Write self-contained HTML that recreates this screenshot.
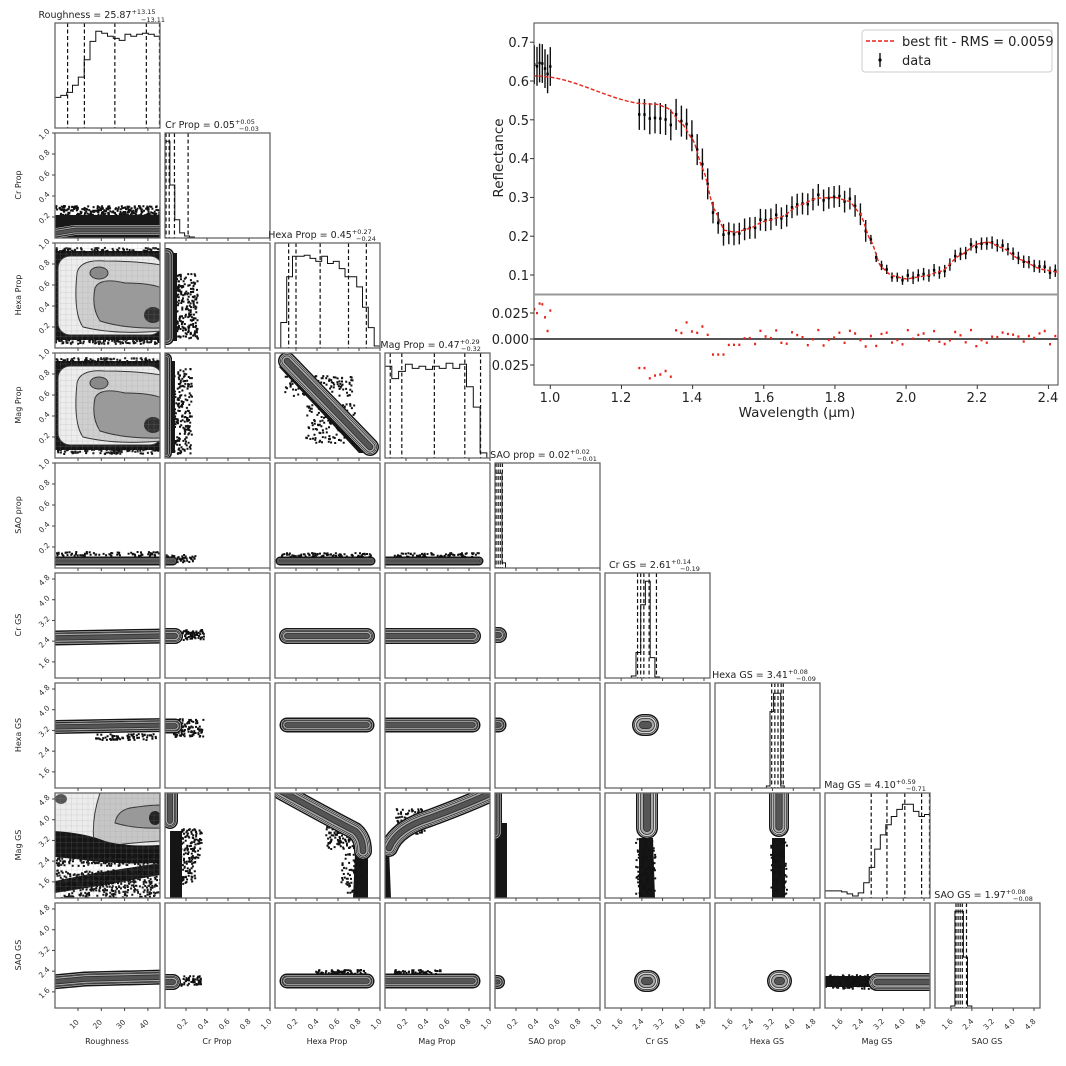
<!DOCTYPE html>
<html><head><meta charset="utf-8"><style>
html,body{margin:0;padding:0;background:#fff;}
svg{display:block;font-family:"DejaVu Sans","Liberation Sans",sans-serif;}
</style></head><body>
<svg id="s" width="1066" height="1066" viewBox="0 0 1066 1066" xmlns="http://www.w3.org/2000/svg">
<rect width="1066" height="1066" fill="#fff"/>
<g id="corner"></g>
<g id="spec"></g>
<g font-size="9.5" fill="#222" text-anchor="middle">
<text x="97" y="18">Roughness = 25.87<tspan font-size="6.5" dy="-4">+13.15</tspan></text>
<text x="210" y="128">Cr Prop = 0.05<tspan font-size="6.5" dy="-4">+0.05</tspan></text>
<text x="320" y="238">Hexa Prop = 0.45<tspan font-size="6.5" dy="-4">+0.27</tspan></text>
<text x="430" y="348">Mag Prop = 0.47<tspan font-size="6.5" dy="-4">+0.29</tspan></text>
<text x="540" y="458">SAO prop = 0.02<tspan font-size="6.5" dy="-4">+0.02</tspan></text>
<text x="650" y="568">Cr GS = 2.61<tspan font-size="6.5" dy="-4">+0.14</tspan></text>
<text x="760" y="678">Hexa GS = 3.41<tspan font-size="6.5" dy="-4">+0.08</tspan></text>
<text x="870" y="788">Mag GS = 4.10<tspan font-size="6.5" dy="-4">+0.59</tspan></text>
<text x="980" y="898">SAO GS = 1.97<tspan font-size="6.5" dy="-4">+0.08</tspan></text>
</g>
<g font-size="6.5" fill="#222">
<text x="141" y="22">−13.11</text><text x="239" y="131">−0.03</text><text x="356" y="241">−0.24</text><text x="461" y="351">−0.32</text><text x="577" y="461">−0.01</text><text x="680" y="571">−0.19</text><text x="796" y="681">−0.09</text><text x="906" y="791">−0.71</text><text x="1013" y="901">−0.08</text>
</g>
<g font-size="8" fill="#222" text-anchor="middle">
<text transform="translate(21,185) rotate(-90)">Cr Prop</text>
<text transform="translate(21,295) rotate(-90)">Hexa Prop</text>
<text transform="translate(21,405) rotate(-90)">Mag Prop</text>
<text transform="translate(21,515) rotate(-90)">SAO prop</text>
<text transform="translate(21,625) rotate(-90)">Cr GS</text>
<text transform="translate(21,735) rotate(-90)">Hexa GS</text>
<text transform="translate(21,845) rotate(-90)">Mag GS</text>
<text transform="translate(21,955) rotate(-90)">SAO GS</text>
<text x="107" y="1044">Roughness</text>
<text x="217" y="1044">Cr Prop</text>
<text x="327" y="1044">Hexa Prop</text>
<text x="437" y="1044">Mag Prop</text>
<text x="547" y="1044">SAO prop</text>
<text x="657" y="1044">Cr GS</text>
<text x="767" y="1044">Hexa GS</text>
<text x="877" y="1044">Mag GS</text>
<text x="987" y="1044">SAO GS</text>
</g>
<g id="ticklabels" font-size="7.5" fill="#333"></g>
<g font-size="13" fill="#222">
<text x="529" y="47" text-anchor="end">0.7</text>
<text x="529" y="86" text-anchor="end">0.6</text>
<text x="529" y="125" text-anchor="end">0.5</text>
<text x="529" y="163" text-anchor="end">0.4</text>
<text x="529" y="202" text-anchor="end">0.3</text>
<text x="529" y="241" text-anchor="end">0.2</text>
<text x="529" y="280" text-anchor="end">0.1</text>
<text x="529" y="318" text-anchor="end">0.025</text>
<text x="529" y="344" text-anchor="end">0.000</text>
<text x="529" y="370" text-anchor="end">0.025</text>
<text x="550" y="402" text-anchor="middle">1.0</text>
<text x="621" y="402" text-anchor="middle">1.2</text>
<text x="692" y="402" text-anchor="middle">1.4</text>
<text x="764" y="402" text-anchor="middle">1.6</text>
<text x="835" y="402" text-anchor="middle">1.8</text>
<text x="906" y="402" text-anchor="middle">2.0</text>
<text x="977" y="402" text-anchor="middle">2.2</text>
<text x="1048" y="402" text-anchor="middle">2.4</text>
<text x="797" y="417" text-anchor="middle" font-size="13.5">Wavelength (µm)</text>
<text transform="translate(503,158) rotate(-90)" text-anchor="middle" font-size="13.5">Reflectance</text>
<text x="902" y="46">best fit - RMS = 0.0059</text>
<text x="902" y="65">data</text>
</g>
</svg>
<script>
var NS="http://www.w3.org/2000/svg";
function el(parent,tag,attrs){var e=document.createElementNS(NS,tag);for(var k in attrs)e.setAttribute(k,attrs[k]);parent.appendChild(e);return e;}
var seed=7;function rnd(){seed=(seed*16807)%2147483647;return (seed-1)/2147483646;}
var C=document.getElementById('corner');
var P=105;
function px(c){return 55+110*c;} function py(r){return 23+110*r;}
var vars=[
 {t:[10,20,30,40],lab:['10','20','30','40'],x:function(v){return 23+(v-10)*2.33;}},
 {t:[.2,.4,.6,.8,1],lab:['0.2','0.4','0.6','0.8','1.0'],x:function(v){return v*105;}},
 {t:[.2,.4,.6,.8,1],lab:['0.2','0.4','0.6','0.8','1.0'],x:function(v){return v*105;}},
 {t:[.2,.4,.6,.8,1],lab:['0.2','0.4','0.6','0.8','1.0'],x:function(v){return v*105;}},
 {t:[.2,.4,.6,.8,1],lab:['0.2','0.4','0.6','0.8','1.0'],x:function(v){return v*105;}},
 {t:[1.6,2.4,3.2,4.0,4.8],lab:['1.6','2.4','3.2','4.0','4.8'],x:function(v){return 99-(4.8-v)*25.9;}},
 {t:[1.6,2.4,3.2,4.0,4.8],lab:['1.6','2.4','3.2','4.0','4.8'],x:function(v){return 99-(4.8-v)*25.9;}},
 {t:[1.6,2.4,3.2,4.0,4.8],lab:['1.6','2.4','3.2','4.0','4.8'],x:function(v){return 99-(4.8-v)*25.9;}},
 {t:[1.6,2.4,3.2,4.0,4.8],lab:['1.6','2.4','3.2','4.0','4.8'],x:function(v){return 99-(4.8-v)*25.9;}}
];
function tube(g,d,W){
 var L=[[W,'#161616'],[W-3,'#f2f2f2'],[W-4,'#2a2a2a'],[W-5.5,'#d6d6d6'],[W*0.62,'#2a2a2a'],[W*0.62-1.5,'#a8a8a8'],[W*0.36,'#2a2a2a'],[W*0.36-1.5,'#555']];
 L.forEach(function(l){if(l[0]>0.5)el(g,'path',{d:d,fill:'none',stroke:l[1],'stroke-width':l[0],'stroke-linecap':'round','stroke-linejoin':'round'});});
}
function scat(g,x0,y0,w,h,n){var d='';for(var i=0;i<n*2.5;i++){var x=x0+rnd()*w,y=y0+rnd()*h;d+='M'+x.toFixed(1)+' '+y.toFixed(1)+'h2v2h-2z';}el(g,'path',{d:d,fill:'#111'});}
function grid(g){var d='';for(var i=0;i<=105;i+=5.5){d+='M'+i+' 0V105M0 '+i+'H105';}el(g,'path',{d:d,stroke:'#999','stroke-width':0.3,fill:'none',opacity:0.5});}
function bigbox(g){
 el(g,'rect',{x:0,y:8,width:105,height:89,fill:'#181818'});
 scat(g,0,4,105,7,60);scat(g,0,94,105,6,50);
 el(g,'rect',{x:3,y:13,width:104,height:79,rx:12,fill:'#ededed',stroke:'#333','stroke-width':1});
 el(g,'path',{d:'M22 30 Q25 16 50 18 Q80 18 107 22 L107 88 Q60 92 28 84 Q18 70 22 30Z',fill:'#cfcfcf',stroke:'#333','stroke-width':1});
 el(g,'path',{d:'M40 45 Q45 34 70 40 Q95 40 107 45 L107 85 Q70 86 45 78 Q36 64 40 45Z',fill:'#9a9a9a',stroke:'#333','stroke-width':1});
 el(g,'ellipse',{cx:98,cy:72,rx:9,ry:8,fill:'#303030'});
 el(g,'ellipse',{cx:44,cy:30,rx:9,ry:6,fill:'#888',stroke:'#333','stroke-width':1});
 grid(g);
}
var cells={
 '1,0':function(g){scat(g,0,72,105,14,140);el(g,'rect',{x:0,y:82,width:105,height:23,fill:'#181818'});tube(g,'M-4 101 L20 97 L110 97',13);},
 '2,0':bigbox,'3,0':bigbox,
 '2,1':function(g){scat(g,8,30,24,65,90);el(g,'rect',{x:0,y:10,width:12,height:88,fill:'#181818'});tube(g,'M2 12 L2 95',14);},
 '3,1':function(g){scat(g,6,15,20,85,80);el(g,'rect',{x:0,y:8,width:10,height:92,fill:'#181818'});tube(g,'M1 6 L1 100',12);},
 '3,2':function(g){el(g,'path',{d:'M4 14 L84 100 L100 100 L98 86 L20 6Z',fill:'#181818'});scat(g,8,22,70,20,40);scat(g,30,50,50,40,60);tube(g,'M12 8 L95 94',18);},
 '4,0':function(g){scat(g,0,88,105,4,30);tube(g,'M-3 98 L110 98',9);},
 '4,1':function(g){scat(g,0,91,30,8,20);tube(g,'M-3 98 L8 98',9);},
 '4,2':function(g){tube(g,'M5 98 L96 98',9);scat(g,5,89,90,4,30);},
 '4,3':function(g){tube(g,'M-3 98 L94 98',9);scat(g,5,89,90,4,30);},
 '5,0':function(g){tube(g,'M-3 65 L110 63',15);},
 '5,1':function(g){scat(g,8,56,30,10,40);tube(g,'M-3 63 L10 63',16);},
 '5,2':function(g){tube(g,'M12 63 L92 63',16);},
 '5,3':function(g){tube(g,'M-3 63 L88 63',16);},
 '5,4':function(g){tube(g,'M-3 62 L4 62',16);},
 '6,0':function(g){scat(g,40,50,60,6,30);tube(g,'M-3 44 L110 42',14);},
 '6,1':function(g){scat(g,8,35,30,18,40);tube(g,'M-3 43 L10 43',15);},
 '6,2':function(g){tube(g,'M12 42 L92 42',15);},
 '6,3':function(g){tube(g,'M-3 42 L88 42',15);},
 '6,4':function(g){tube(g,'M-3 42 L4 42',15);},
 '6,5':function(g){tube(g,'M38 42 L43 42',22);},
 '7,0':function(g){
   el(g,'rect',{x:0,y:0,width:105,height:60,fill:'#ececec'});
   el(g,'path',{d:'M40 55 Q35 30 45 0 L105 0 L105 48 Q70 50 40 55Z',fill:'#c6c6c6',stroke:'#333'});
   el(g,'path',{d:'M60 30 Q62 18 75 15 Q95 12 105 12 L105 35 Q80 36 60 30Z',fill:'#999',stroke:'#333'});
   el(g,'ellipse',{cx:100,cy:25,rx:6,ry:7,fill:'#222'});el(g,'ellipse',{cx:6,cy:6,rx:6,ry:5,fill:'#555'});
   el(g,'path',{d:'M0 38 Q30 40 50 48 Q70 54 105 52 L105 70 Q60 72 20 66 L0 64Z',fill:'#161616'});
   scat(g,0,60,105,12,80);
   el(g,'path',{d:'M0 88 L40 80 L105 70 L105 82 L50 92 L0 100Z',fill:'#1a1a1a'});
   scat(g,0,76,105,29,150);grid(g);},
 '7,1':function(g){el(g,'rect',{x:5,y:38,width:12,height:67,fill:'#151515'});scat(g,14,35,22,30,40);scat(g,16,65,14,25,20);tube(g,'M5 -6 L5 28',16);},
 '7,2':function(g){el(g,'path',{d:'M82 48 L93 60 L93 105 L78 105 L80 60Z',fill:'#151515'});scat(g,50,30,40,25,60);scat(g,65,60,20,40,25);tube(g,'M6 -2 Q55 25 80 38 Q88 45 88 58',18);},
 '7,3':function(g){el(g,'path',{d:'M0 55 L4 55 L6 105 L0 105Z',fill:'#151515'});scat(g,10,15,30,25,40);tube(g,'M4 55 Q12 35 45 25 Q80 12 102 2',18);},
 '7,4':function(g){el(g,'rect',{x:0,y:30,width:12,height:75,fill:'#151515'});tube(g,'M0 -5 L0 40',14);},
 '7,5':function(g){el(g,'path',{d:'M34 45 L48 45 L50 105 L34 105Z',fill:'#151515'});scat(g,30,45,20,60,40);tube(g,'M42 -6 L42 35',22);},
 '7,6':function(g){el(g,'path',{d:'M57 45 L70 45 L70 105 L57 105Z',fill:'#151515'});scat(g,55,45,16,60,30);tube(g,'M64 -6 L64 34',20);},
 '8,0':function(g){scat(g,70,68,35,5,40);tube(g,'M-3 79 L30 76 L110 74',15);},
 '8,1':function(g){scat(g,6,72,30,10,30);tube(g,'M-3 79 L8 79',16);},
 '8,2':function(g){scat(g,40,66,50,5,30);tube(g,'M12 78 L92 78',15);},
 '8,3':function(g){scat(g,5,66,50,5,30);tube(g,'M-3 78 L88 78',15);},
 '8,4':function(g){tube(g,'M-3 79 L3 79',14);},
 '8,5':function(g){tube(g,'M40 78 L44 78',22);},
 '8,6':function(g){tube(g,'M63 78 L66 78',22);},
 '8,7':function(g){el(g,'rect',{x:0,y:73,width:48,height:11,fill:'#151515'});scat(g,0,71,48,14,40);tube(g,'M52 79 L112 79',18);}
};
var hists=[
 {h:[.3,.32,.35,.42,.5,.67,.85,.95,.93,.9,.88,.86,.92,.9,.92,.93,.92,.9],x0:0,x1:1,dash:[.12,.28,.57,.87,.995]},
 {h:[.95,.52,.18,.05,.02,.01],x0:0,x1:.28,dash:[.01,.04,.09,.22]},
 {h:[0,.25,.7,.9,.9,.91,.88,.85,.9,.83,.85,.78,.7,.7,.6,.4,.2,.02],x0:0,x1:1,dash:[.13,.2,.43,.7,.87]},
 {h:[.9,.78,.85,.92,.88,.9,.87,.9,.88,.93,.88,.92,.7,.5,.05],x0:0,x1:.97,dash:[.05,.16,.47,.76,.91]},
 {h:[.93,.93,.05],x0:0,x1:.1,dash:[.01,.03,.05,.07]},
 {h:[.02,.25,.72,.95,.2,.01],x0:.25,x1:.52,dash:[.31,.34,.37,.42,.49]},
 {h:[.02,.75,.93,.93,.02],x0:.49,x1:.66,dash:[.54,.57,.6,.63,.65]},
 {h:[.07,.07,.07,.06,.04,.02,.05,.15,.3,.48,.62,.72,.8,.87,.92,.92,.85,.8,.82],x0:0,x1:1,dash:[.44,.59,.76,.92,.995]},
 {h:[.02,.95,.95,.5,.02],x0:.15,x1:.35,dash:[.2,.22,.24,.26,.3]}
];
for(var r=0;r<9;r++){for(var c=0;c<=r;c++){
 var g=el(C,'g',{transform:'translate('+px(c)+','+py(r)+')'});
 var cp=el(g,'clipPath',{id:'cp'+r+c});el(cp,'rect',{x:0,y:0,width:P,height:P});
 var inner=el(g,'g',{'clip-path':'url(#cp'+r+c+')'});
 if(c==r){var H=hists[r];var n=H.h.length,bw=(H.x1-H.x0)*P/n,d='M'+(H.x0*P)+' '+P;
  H.h.forEach(function(v,i){var y=P-v*P*0.97;d+=' L'+(H.x0*P+i*bw).toFixed(1)+' '+y.toFixed(1)+' L'+(H.x0*P+(i+1)*bw).toFixed(1)+' '+y.toFixed(1);});
  d+=' L'+(H.x1*P)+' '+P;
  el(inner,'path',{d:d,fill:'none',stroke:'#111','stroke-width':1});
  H.dash.forEach(function(x){el(inner,'line',{x1:x*P,x2:x*P,y1:0,y2:P,stroke:'#111','stroke-width':1.2,'stroke-dasharray':'4,2.5'});});
 } else if(cells[r+','+c]) cells[r+','+c](inner);
 el(g,'rect',{x:0,y:0,width:P,height:P,fill:'none',stroke:'#666','stroke-width':1.3});
 vars[c].t.forEach(function(v){var x=vars[c].x(v);if(x<=P+0.5)el(g,'line',{x1:x,x2:x,y1:P,y2:P+3,stroke:'#444'});});
 if(c==0&&r>0)vars[r].t.forEach(function(v){var y=P-vars[r].x(v);el(g,'line',{x1:-3,x2:0,y1:y,y2:y,stroke:'#444'});});
}}
var TL=document.getElementById('ticklabels');
for(var r=1;r<9;r++)vars[r].t.forEach(function(v,i){var y=py(r)+P-vars[r].x(v);var t=el(TL,'text',{transform:'translate(46,'+(y+3)+') rotate(-45)','text-anchor':'middle'});t.textContent=vars[r].lab[i];});
for(var c=0;c<9;c++)vars[c].t.forEach(function(v,i){var x=px(c)+vars[c].x(v);var t=el(TL,'text',{transform:'translate('+(x-2)+','+(py(8)+P+18)+') rotate(-45)','text-anchor':'middle'});t.textContent=vars[c].lab[i];});
var S=document.getElementById('spec');
function X(w){return 550.3+(w-1)*355.8;} function Y(v){return 275-(v-0.1)*388;} function YR(v){return 339-v*1040;}
var K=[[0.9,0.618],[1.0,0.61],[1.25,0.542],[1.3,0.54],[1.33,0.53],[1.37,0.49],[1.4,0.45],[1.43,0.37],[1.46,0.27],[1.49,0.215],[1.52,0.21],[1.56,0.22],[1.6,0.238],[1.65,0.25],[1.7,0.28],[1.75,0.298],[1.8,0.3],[1.84,0.29],[1.87,0.26],[1.9,0.19],[1.93,0.12],[1.96,0.098],[2.0,0.09],[2.05,0.097],[2.1,0.11],[2.15,0.15],[2.2,0.18],[2.23,0.185],[2.27,0.17],[2.32,0.14],[2.38,0.115],[2.45,0.103]];
function M(w){for(var i=0;i<K.length-1;i++)if(w<=K[i+1][0]){var t=(w-K[i][0])/(K[i+1][0]-K[i][0]);var s=t*t*(3-2*t);var tt=(i>0&&i<K.length-2)?0.5*t+0.5*s:t;return K[i][1]+(K[i+1][1]-K[i][1])*tt;}return K[K.length-1][1];}
var cl=el(S,'clipPath',{id:'mc'});el(cl,'rect',{x:534,y:23,width:524,height:271});
var cl2=el(S,'clipPath',{id:'rc'});el(cl2,'rect',{x:534,y:294,width:524,height:91});
var gm=el(S,'g',{'clip-path':'url(#mc)'});var gr=el(S,'g',{'clip-path':'url(#rc)'});
var pts=[];for(var w=0.955;w<=1.001;w+=0.0075)pts.push(w);for(var w=1.25;w<=2.44;w+=0.0148)pts.push(w);
var eb='',dots='',res='';
pts.forEach(function(w){var resid;
 if(w<1.01)resid=0.003+rnd()*0.033;else if(w<1.35)resid=-0.018-rnd()*0.02;else if(w<1.45)resid=0.003+rnd()*0.015;else if(w<1.5)resid=-0.015;else resid=(rnd()-0.45)*0.016;
 var v=M(w)+resid; var e=w<1.01?0.05:(w<1.45?0.04:(w<1.9?0.028:(w<2.0?0.012:0.016)));
 var x=X(w);eb+='M'+x.toFixed(1)+' '+Y(v+e).toFixed(1)+'V'+Y(v-e).toFixed(1);
 dots+='M'+(x-1.2).toFixed(1)+' '+Y(v).toFixed(1)+'h2.4';
 res+='M'+(x-1).toFixed(1)+' '+YR(resid).toFixed(1)+'h2';});
el(gm,'path',{d:eb,stroke:'#111','stroke-width':1.4,fill:'none'});
el(gm,'path',{d:dots,stroke:'#000','stroke-width':2.6,fill:'none'});
var md='';for(var w=0.95;w<=2.44;w+=0.005){md+=(md?'L':'M')+X(w).toFixed(1)+' '+Y(M(w)).toFixed(1);}
el(gm,'path',{d:md,stroke:'#e8241a','stroke-width':1.4,fill:'none','stroke-dasharray':'4,2'});
el(gr,'line',{x1:534,x2:1058,y1:339,y2:339,stroke:'#555','stroke-width':2});
el(gr,'path',{d:res,stroke:'#e8241a','stroke-width':2.4,fill:'none'});
el(S,'rect',{x:534,y:23,width:524,height:362,fill:'none',stroke:'#444','stroke-width':1});
el(S,'line',{x1:534,x2:1058,y1:294.5,y2:294.5,stroke:'#999','stroke-width':2});
[0.7,0.6,0.5,0.4,0.3,0.2,0.1].forEach(function(v){el(S,'line',{x1:530,x2:534,y1:Y(v),y2:Y(v),stroke:'#333'});});
[0.025,0,-0.025].forEach(function(v){el(S,'line',{x1:530,x2:534,y1:YR(v),y2:YR(v),stroke:'#333'});});
[1,1.2,1.4,1.6,1.8,2.0,2.2,2.4].forEach(function(w){el(S,'line',{x1:X(w),x2:X(w),y1:385,y2:389,stroke:'#333'});});
el(S,'rect',{x:862,y:30,width:190,height:42,rx:3,fill:'#fff',stroke:'#ccc','stroke-width':1});
el(S,'line',{x1:866,x2:896,y1:41,y2:41,stroke:'#e8241a','stroke-width':1.5,'stroke-dasharray':'4,2'});
el(S,'line',{x1:880,x2:880,y1:53,y2:67,stroke:'#111','stroke-width':1.4});
el(S,'circle',{cx:880,cy:60,r:1.6,fill:'#000'});
S.parentNode.appendChild(S.nextElementSibling||S);
</script>
</body></html>
